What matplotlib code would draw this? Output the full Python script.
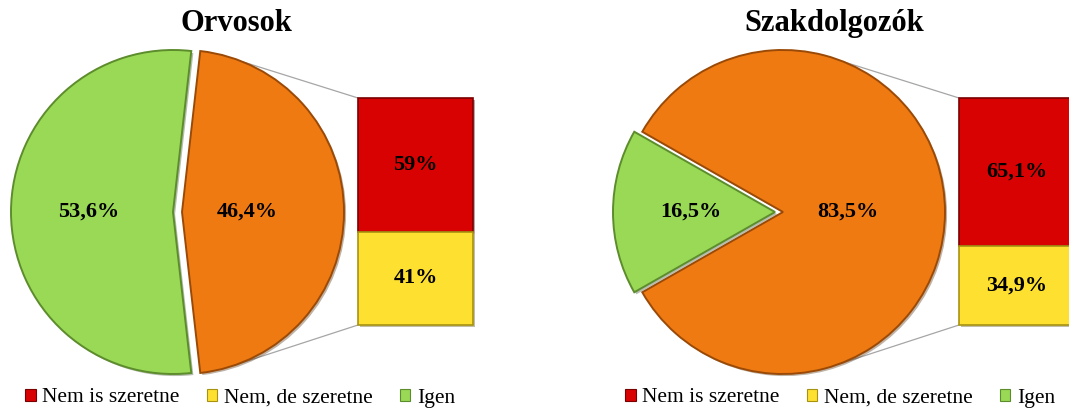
import matplotlib
matplotlib.use("Agg")
import matplotlib.pyplot as plt
from matplotlib.patches import Patch
import matplotlib.patheffects as pe
import numpy as np

plt.rcParams['font.family'] = ['Liberation Serif', 'DejaVu Serif']

W, H = 1069, 412

titles = ["Orvosok", "Szakdolgozók"]
pie_labels = ["Nem", "Igen"]
orvosok_pie = [46.4, 53.6]
szakdolgozok_pie = [83.5, 16.5]
bar_labels = ["Nem is szeretne", "Nem, de szeretne"]
orvosok_bar = [59, 41]
szakdolgozok_bar = [65.1, 34.9]
legend_labels = ["Nem is szeretne", "Nem, de szeretne", "Igen"]

c_orange = "#F07A12"
c_green = "#99D955"
c_red = "#D90202"
c_yellow = "#FDE030"
e_orange = "#9A4A06"
e_green = "#5C8C2C"
e_red = "#7A0000"
e_yellow = "#A89310"

shadow = [pe.SimplePatchShadow(offset=(1.5, -1.5), alpha=0.35), pe.Normal()]


def fmt(v):
    if float(v).is_integer():
        return f"{int(v)}%"
    return f"{v:.1f}%".replace(".", ",")


def panel(ax, title, tx, pie_vals, bar_vals, cx, explode, bar_x, bar_w, leg_x):
    cy = H - 212
    r = 162
    start = -pie_vals[0] * 1.8
    # explode is in data units (pixels here)
    wedges, _ = ax.pie(pie_vals, colors=[c_orange, c_green], startangle=start,
                       explode=explode, center=(cx, cy), radius=r,
                       wedgeprops=dict(linewidth=1.4))
    wedges[0].set_edgecolor(e_orange)
    wedges[1].set_edgecolor(e_green)
    for w in wedges:
        w.set_path_effects(shadow)

    nem_cx = cx + explode[0]
    igen_cx = cx - explode[1]
    ax.text(nem_cx + 0.4 * r, cy, fmt(pie_vals[0]), ha="center", va="center",
            fontsize=16, fontweight="bold")
    ax.text(igen_cx - 0.52 * r, cy, fmt(pie_vals[1]), ha="center", va="center",
            fontsize=16, fontweight="bold")

    # bar of pie
    top, bottom = H - 98, H - 325
    bh = top - bottom
    heights = [v / 100 * bh for v in bar_vals]
    bottoms = [top - heights[0], bottom]
    bars = ax.bar([bar_x + bar_w / 2] * 2, heights, width=bar_w, bottom=bottoms,
                  color=[c_red, c_yellow], edgecolor=[e_red, e_yellow], linewidth=1.2)
    for b, v in zip(bars, bar_vals):
        b.set_path_effects(shadow)
        ax.text(b.get_x() + b.get_width() / 2, b.get_y() + b.get_height() / 2,
                fmt(v), ha="center", va="center", fontsize=16, fontweight="bold")

    # connector lines
    a1, a2 = np.radians(68), np.radians(-70)
    ax.plot([nem_cx + r * np.cos(a1), bar_x], [cy + r * np.sin(a1), top],
            color="#A6A6A6", lw=0.9, zorder=0)
    ax.plot([nem_cx + r * np.cos(a2), bar_x], [cy + r * np.sin(a2), bottom],
            color="#A6A6A6", lw=0.9, zorder=0)

    ax.text(tx, H - 23, title, ha="center", va="center", fontsize=22,
            fontweight="bold")

    handles = [Patch(facecolor=c, edgecolor=e, linewidth=0.8)
               for c, e in [(c_red, e_red), (c_yellow, e_yellow), (c_green, e_green)]]
    leg = ax.legend(handles, legend_labels, ncol=3, loc="center",
                    bbox_to_anchor=(leg_x, H - 398), bbox_transform=ax.transData,
                    frameon=False, fontsize=15.5, handlelength=0.5, handleheight=0.5,
                    handletextpad=0.3, columnspacing=1.25, borderpad=0)
    return leg


fig = plt.figure(figsize=(W / 100, H / 100), dpi=100)
ax = fig.add_axes([0, 0, 1, 1])

leg1 = panel(ax, titles[0], 236, orvosok_pie, orvosok_bar, 173, [9, 0], 358, 115, 240)
ax.add_artist(leg1)
panel(ax, titles[1], 834, szakdolgozok_pie, szakdolgozok_bar, 783, [0, 8], 959, 115, 840)

ax.set_xlim(0, W)
ax.set_ylim(0, H)
ax.set_aspect("equal")
ax.axis("off")

fig.savefig("out.png", dpi=100)
